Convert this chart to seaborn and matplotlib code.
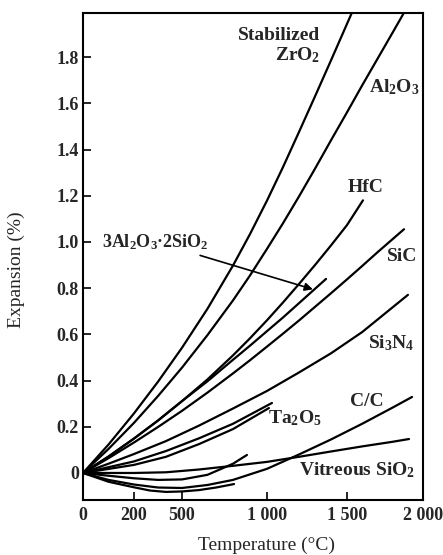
import numpy as np
import pandas as pd
import matplotlib
matplotlib.use("Agg")
import matplotlib.pyplot as plt
import seaborn as sns

# ---------------- data ----------------
zro2_T = [0, 100, 200, 350, 500, 650, 800, 900, 1000, 1100, 1200, 1300, 1400, 1560]
zro2_E = [0, 0.123, 0.258, 0.395, 0.542, 0.711, 0.898, 1.034, 1.179, 1.324, 1.476, 1.630, 1.786, 2.034]

al2o3_T = [0, 100, 200, 350, 500, 650, 800, 900, 1000, 1100, 1200, 1300, 1400, 1500, 1600, 1800, 1920]
al2o3_E = [0, 0.104, 0.217, 0.333, 0.456, 0.597, 0.747, 0.855, 0.970, 1.081, 1.197, 1.317, 1.44,
           1.561, 1.678, 1.906, 2.044]

hfc_T = [0, 100, 200, 350, 500, 650, 800, 900, 1000, 1100, 1200, 1300, 1400, 1500, 1605]
hfc_E = [0, 0.071, 0.149, 0.227, 0.311, 0.405, 0.509, 0.583, 0.661, 0.738, 0.818, 0.900, 0.985,
         1.073, 1.18]

mullite_T = [0, 100, 200, 350, 500, 650, 800, 900, 1000, 1100, 1200, 1369]
mullite_E = [0, 0.071, 0.149, 0.227, 0.311, 0.397, 0.490, 0.551, 0.614, 0.673, 0.735, 0.840]

sic_T = [0, 100, 200, 350, 500, 650, 800, 900, 1000, 1100, 1200, 1300, 1400, 1500, 1600, 1700, 1875]
sic_E = [0, 0.064, 0.132, 0.199, 0.269, 0.348, 0.431, 0.488, 0.547, 0.603, 0.660, 0.719, 0.778,
         0.838, 0.896, 0.955, 1.055]

si3n4_T = [0, 100, 200, 400, 600, 800, 1000, 1200, 1400, 1600, 1901]
si3n4_E = [0, 0.040, 0.082, 0.138, 0.205, 0.279, 0.355, 0.435, 0.518, 0.61, 0.771]

ta2o5_a_T = [0, 200, 400, 600, 800, 1031]
ta2o5_a_E = [0, 0.05, 0.095, 0.15, 0.213, 0.303]
ta2o5_b_T = [0, 200, 400, 600, 800, 1012]
ta2o5_b_E = [0, 0.035, 0.07, 0.125, 0.19, 0.281]

cc_T = [0, 100, 200, 350, 500, 650, 800, 1000, 1200, 1400, 1600, 1800, 1928]
cc_E = [0, -0.03, -0.05, -0.063, -0.065, -0.052, -0.03, 0.018, 0.08, 0.145, 0.213, 0.283, 0.329]

sio2_T = [0, 200, 400, 600, 800, 1000, 1200, 1400, 1600, 1800, 1908]
sio2_E = [0, 0.0, 0.003, 0.015, 0.031, 0.048, 0.07, 0.093, 0.115, 0.135, 0.147]

low_a_T = [0, 100, 200, 350, 500, 650, 800, 882]
low_a_E = [0, -0.012, -0.023, -0.03, -0.028, -0.008, 0.04, 0.078]

low_b_T = [0, 100, 200, 300, 400, 500, 600, 700, 806]
low_b_E = [0, -0.038, -0.062, -0.076, -0.082, -0.08, -0.074, -0.063, -0.048]

x_ticks = [0, 200, 500, 1000, 1500, 2000]
x_tick_labels = ["0", "200", "500", "1 000", "1 500", "2 000"]
y_ticks = [0, 0.2, 0.4, 0.6, 0.8, 1.0, 1.2, 1.4, 1.6, 1.8]
y_tick_labels = ["0", "0.2", "0.4", "0.6", "0.8", "1.0", "1.2", "1.4", "1.6", "1.8"]

# the original temperature axis is not linear: tick -> relative position
scale_pos = [0, 51, 99, 184, 264, 340]

curves = {
    "ZrO2": (zro2_T, zro2_E), "Al2O3": (al2o3_T, al2o3_E), "HfC": (hfc_T, hfc_E),
    "mullite": (mullite_T, mullite_E), "SiC": (sic_T, sic_E), "Si3N4": (si3n4_T, si3n4_E),
    "Ta2O5a": (ta2o5_a_T, ta2o5_a_E), "Ta2O5b": (ta2o5_b_T, ta2o5_b_E), "CC": (cc_T, cc_E),
    "SiO2": (sio2_T, sio2_E), "lowa": (low_a_T, low_a_E), "lowb": (low_b_T, low_b_E),
}
frames = []
for name, (t, e) in curves.items():
    frames.append(pd.DataFrame({"T": t, "E": e, "curve": name}))
df = pd.concat(frames, ignore_index=True)

# ---------------- style ----------------
sns.set_theme(style="ticks")
plt.rcParams["font.family"] = ["Liberation Serif", "DejaVu Serif"]
plt.rcParams["mathtext.fontset"] = "custom"
plt.rcParams["mathtext.rm"] = "Liberation Serif"
plt.rcParams["mathtext.bf"] = "Liberation Serif:bold"
plt.rcParams["mathtext.it"] = "Liberation Serif:italic"


def _ext(x, xs, ys):
    x = np.asarray(x, dtype=float)
    y = np.interp(x, xs, ys)
    lo = ys[0] + (x - xs[0]) * (ys[1] - ys[0]) / (xs[1] - xs[0])
    hi = ys[-1] + (x - xs[-1]) * (ys[-1] - ys[-2]) / (xs[-1] - xs[-2])
    y = np.where(x < xs[0], lo, y)
    y = np.where(x > xs[-1], hi, y)
    return y


def fwd(x):
    return _ext(x, x_ticks, scale_pos)


def inv(p):
    return _ext(p, scale_pos, x_ticks)


fig = plt.figure(figsize=(4.43, 5.55), dpi=100)
ax = fig.add_axes([83 / 443, 1 - 500 / 555, 340 / 443, 487 / 555])
ax.set_xscale("function", functions=(fwd, inv))

sns.lineplot(data=df, x="T", y="E", units="curve", estimator=None, sort=False,
             color="black", lw=1.6, legend=False, ax=ax)

ax.set_xlim(0, 2000)
ax.set_ylim(-0.117, 1.991)
ax.set_xticks(x_ticks)
ax.set_xticklabels(x_tick_labels)
ax.set_yticks(y_ticks)
ax.set_yticklabels(y_tick_labels)
ax.xaxis.set_minor_locator(matplotlib.ticker.NullLocator())

for lab in ax.get_xticklabels() + ax.get_yticklabels():
    lab.set_fontweight("bold")
    lab.set_fontsize(13)
ax.tick_params(axis="both", direction="in", length=6, width=1.2, color="black")
ax.tick_params(axis="x", pad=5)
ax.tick_params(axis="y", pad=3)
for sp in ax.spines.values():
    sp.set_linewidth(1.5)
    sp.set_color("black")
    sp.set_visible(True)

ax.set_xlabel("Temperature (°C)", fontsize=14)
ax.set_ylabel("Expansion (%)", fontsize=14)
ax.xaxis.set_label_coords(0.541, -0.076)
ax.yaxis.set_label_coords(-0.171, 0.472)

kw = dict(transform=ax.transAxes, fontsize=14, fontweight="bold", va="center")
ax.text(0.697, 0.953, "Stabilized", ha="right", **kw)
ax.text(0.697, 0.914, r"ZrO$_\mathbf{2}$", ha="right", **kw)
ax.text(0.915, 0.848, r"Al$_\mathbf{2}$O$_\mathbf{3}$", ha="center", **kw)
ax.text(0.832, 0.641, "HfC", ha="center", **kw)
ax.text(0.938, 0.499, "SiC", ha="center", **kw)
ax.text(0.906, 0.322, r"Si$_\mathbf{3}$N$_\mathbf{4}$", ha="center", **kw)
ax.text(0.835, 0.203, "C/C", ha="center", **kw)
ax.text(0.624, 0.168, r"Ta$_\mathbf{2}$O$_\mathbf{5}$", ha="center", **kw)
ax.text(0.806, 0.062, r"Vitreous SiO$_\mathbf{2}$", ha="center", **kw)

ax.annotate(r"3Al$_\mathbf{2}$O$_\mathbf{3}$·2SiO$_\mathbf{2}$",
            xy=(1287, 0.795), xycoords="data",
            xytext=(0.212, 0.530), textcoords="axes fraction",
            ha="center", va="center", fontsize=13, fontweight="bold",
            arrowprops=dict(arrowstyle="-|>", lw=1.2, color="black",
                            shrinkA=1, shrinkB=0, mutation_scale=12))

fig.savefig("out.png", dpi=100)
